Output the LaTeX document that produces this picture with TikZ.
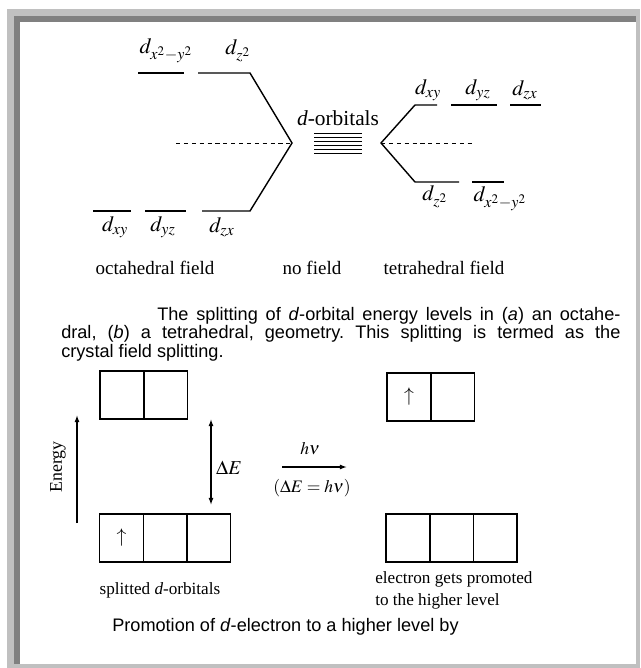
\documentclass[tikz,border=0pt]{standalone}
\usepackage{mathptmx}
\usepackage{fontspec}
\setmainfont{Liberation Serif}
\setsansfont{Liberation Sans}
\usetikzlibrary{arrows.meta,positioning}
\frenchspacing
\definecolor{frameL}{HTML}{C0C0C0}
\definecolor{frameD}{HTML}{808080}
\tikzset{
  lvl/.style={line width=0.9pt},
  split/.style={line width=1pt, line join=miter},
  bary/.style={dash pattern=on 3pt off 2.6pt, line width=0.7pt},
  orb/.style={font=\fontsize{15.5}{17}\selectfont, inner sep=0pt},
  fld/.style={font=\fontsize{13.5}{15}\selectfont, inner sep=0pt},
  note/.style={font=\fontsize{12.2}{15.6}\selectfont, inner sep=0pt},
  capt/.style={font=\sffamily\fontsize{12.9}{13.2}\selectfont, inner sep=0pt},
  obox/.style={draw, line width=1pt, minimum width=1.09cm, minimum height=1.2cm, inner sep=0pt, outer sep=0pt},
  uarr/.style={->, >={Latex[length=5pt,width=3.5pt]}, line width=0.9pt},
  darr/.style={<->, >={Latex[length=5pt,width=3.5pt]}, line width=0.9pt}
}
\newcommand{\orbital}[1]{$d_{#1}$}
\newcommand{\spin}{\fontsize{14}{16}\selectfont$\uparrow$}

\begin{document}
\begin{tikzpicture}[x=0.025cm, y=-0.025cm]
% frame
\fill[white] (0,0) rectangle (640,668);
\fill[frameL] (7,9) rectangle (640,668);
\fill[frameD] (14,16) rectangle (636,664);
\fill[white] (20,22) rectangle (636,664);
\useasboundingbox (0,0) rectangle (640,668);

% octahedral field
\coordinate (oct) at (292,143);
\draw[lvl] (138,73) -- (184,73);
\draw[split] (198,73) -- (250,73) -- (oct) -- (250,211) -- (202,211);
\draw[lvl] (93,211) -- (131,211);
\draw[lvl] (145,211) -- (186,211);
\draw[bary] (176,143) -- (oct);
\node[orb] (o1) at (166,51) {\orbital{x^2-y^2}};
\node[orb] (o2) at (238,51) {\orbital{z^2}};
\node[orb] (o3) at (115,227) {\orbital{xy}};
\node[orb] (o4) at (163,227) {\orbital{yz}};
\node[orb] (o5) at (222,227) {\orbital{zx}};

% no field
\node[orb, font=\fontsize{15.2}{17}\selectfont] (free) at (338,118) {\textit{d}-orbitals};
\foreach \y in {133,137,...,153} \draw[line width=0.6pt] (314,\y) -- (362,\y);

% tetrahedral field
\coordinate (tet) at (381,143);
\draw[split] (437,105) -- (415,105) -- (tet) -- (415,182) -- (459,182);
\draw[lvl] (451,105) -- (497,105);
\draw[lvl] (510,105) -- (541,105);
\draw[lvl] (472,182) -- (504,182);
\draw[bary] (tet) -- (475,143);
\node[orb] (t1) at (428,90) {\orbital{xy}};
\node[orb] (t2) at (478,90) {\orbital{yz}};
\node[orb] (t3) at (525,90) {\orbital{zx}};
\node[orb] (t4) at (435,197) {\orbital{z^2}};
\node[orb] (t5) at (500,199) {\orbital{x^2-y^2}};

\node[fld] (f1) at (155,268) {octahedral field};
\node[fld] (f2) at (312,268) {no field};
\node[fld] (f3) at (444,268) {tetrahedral field};

\node[capt, anchor=north west, text width=13.975cm, align=justify] (cap1) at (61,307)
  {\hspace*{2.4cm}The splitting of \textit{d}-orbital energy levels in (\textit{a}) an octahe-\linebreak
   dral, (\textit{b}) a tetrahedral, geometry. This splitting is termed as the\linebreak
   crystal field splitting.};

% promotion of the electron
\node[obox] (a1) at (122,395) {};
\node[obox, right=0pt of a1] (a2) {};
\node[obox] (b1) at (121.5,538) {\spin};
\node[obox, right=0pt of b1] (b2) {};
\node[obox, right=0pt of b2] (b3) {};
\node[obox] (c1) at (409,397) {\spin};
\node[obox, right=0pt of c1] (c2) {};
\node[obox] (d1) at (408,538) {};
\node[obox, right=0pt of d1] (d2) {};
\node[obox, right=0pt of d2] (d3) {};

\coordinate (e0) at (77,523);
\coordinate (e1) at (77,415);
\draw[uarr] (e0) -- (e1);
\node[note, rotate=90, font=\fontsize{12.7}{14}\selectfont] (en) at (58,467) {Energy};

\coordinate (g0) at (211,419);
\coordinate (g1) at (211,505);
\draw[darr] (g0) -- (g1);
\node[orb, font=\fontsize{14}{15}\selectfont] (gap) at (229,468) {$\Delta E$};

\coordinate (h0) at (282,467);
\coordinate (h1) at (347,467);
\draw[uarr] (h0) -- (h1);
\node[orb, font=\fontsize{12.5}{14}\selectfont] (hv) at (310,449) {$h\nu$};
\node[orb, font=\fontsize{12.5}{14}\selectfont] (eq) at (312,488) {$(\Delta E = h\nu)$};

\node[note] (s1) at (160,590) {splitted \textit{d}-orbitals};
\node[note, anchor=west, align=left] (s2) at (375,590)
  {electron gets promoted\\to the higher level};

\node[capt, anchor=west] (cap2) at (112,627) {Promotion of \textit{d}-electron to a higher level by};
\end{tikzpicture}
\end{document}
